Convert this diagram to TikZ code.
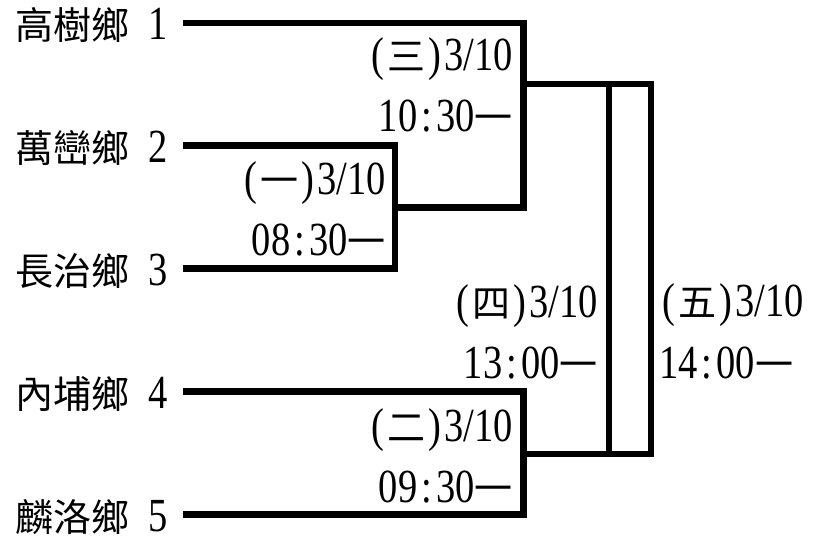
\documentclass[tikz,border=0pt]{standalone}
\usepackage{fontspec}
\usepackage{graphicx}
\newfontfamily\cjk{Noto Sans CJK TC}
\newfontfamily\latf{Liberation Serif}
\newcommand\lat[1]{\scalebox{0.81}[1]{\latf\fontsize{47.5}{47.5}\selectfont #1}}
\newcommand\hw[1]{\makebox[19pt]{\lat{#1}}}
\newcommand\cj[1]{{\cjk\fontsize{38}{38}\selectfont #1}}
\tikzset{
  br/.style={line width=6.5pt, line join=miter},
  namelbl/.style={anchor=base west, inner sep=0pt},
  lblR/.style={anchor=base east, inner sep=0pt},
  lblL/.style={anchor=base west, inner sep=0pt}
}
\begin{document}
\begin{tikzpicture}[x=1pt,y=-1pt]
\useasboundingbox (0,0) rectangle (827,540);
% team names
\node[namelbl] (n1) at (15,40) {\cj{高樹鄉}\hspace{19pt}\lat{1}};
\node[namelbl] (n2) at (15,162.5) {\cj{萬巒鄉}\hspace{19pt}\lat{2}};
\node[namelbl] (n3) at (15,285.5) {\cj{長治鄉}\hspace{19pt}\lat{3}};
\node[namelbl] (n4) at (15,408.5) {\cj{內埔鄉}\hspace{19pt}\lat{4}};
\node[namelbl] (n5) at (15,531.5) {\cj{麟洛鄉}\hspace{19pt}\lat{5}};
% bracket points
\coordinate (s1) at (183,23);
\coordinate (s2) at (183,145.5);
\coordinate (s3) at (183,268.5);
\coordinate (s4) at (183,391.5);
\coordinate (s5) at (183,514.5);
\coordinate (a1) at (395,207.5);
\coordinate (c1) at (523.5,84);
\coordinate (c2) at (523.5,454);
\coordinate (d1) at (651,84);
\coordinate (d2) at (651,454);
\coordinate (e1) at (609,84);
\coordinate (e2) at (609,454);
% bracket lines
\draw[br] (s2) -| (a1) |- (s3);
\draw[br] (s1) -| (c1) |- (a1);
\draw[br] (s4) -| (c2) |- (s5);
\draw[br] (c1) -- (d1) -- (d2) -- (c2);
\draw[br] (e1) -- (e2);
% match labels
\node[lblR] (t3a) at (513,71) {\hw{(}\cj{三}\hw{)}\lat{3/10}};
\node[lblR] (t3b) at (513,132) {\lat{10}\hw{:}\lat{30}\cj{一}};
\node[lblR] (t1a) at (386,195) {\hw{(}\cj{一}\hw{)}\lat{3/10}};
\node[lblR] (t1b) at (386,255) {\lat{08}\hw{:}\lat{30}\cj{一}};
\node[lblR] (t4a) at (598,317) {\hw{(}\cj{四}\hw{)}\lat{3/10}};
\node[lblR] (t4b) at (598,378) {\lat{13}\hw{:}\lat{00}\cj{一}};
\node[lblR] (t2a) at (513,441) {\hw{(}\cj{二}\hw{)}\lat{3/10}};
\node[lblR] (t2b) at (513,502) {\lat{09}\hw{:}\lat{30}\cj{一}};
\node[lblL] (t5a) at (659,316) {\hw{(}\cj{五}\hw{)}\lat{3/10}};
\node[lblL] (t5b) at (659,378) {\lat{14}\hw{:}\lat{00}\cj{一}};
\end{tikzpicture}
\end{document}
